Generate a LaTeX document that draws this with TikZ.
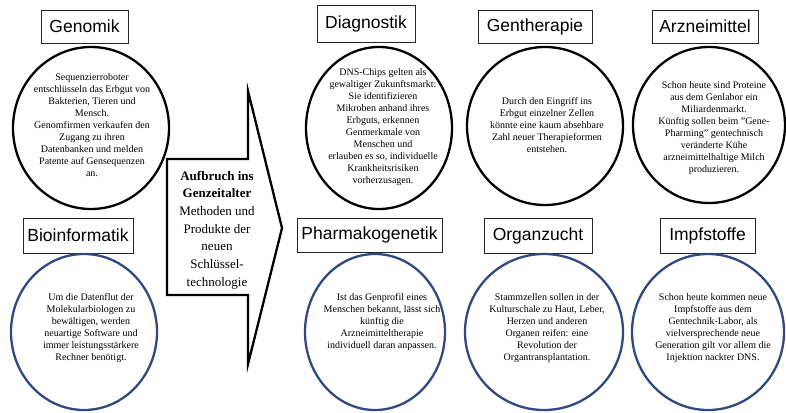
\documentclass[tikz,border=0pt]{standalone}
\usepackage{fontspec}
\setmainfont{Liberation Serif}
\newfontfamily\headfont{Liberation Sans}
\usetikzlibrary{shapes.geometric}
\definecolor{ringblue}{RGB}{50,72,128}
\begin{document}
\begin{tikzpicture}[x=1pt,y=-1pt,
  headbox/.style={draw=black!85, line width=0.8pt, inner sep=0pt,
    font=\headfont\fontsize{17.5}{20}\selectfont},
  ringtop/.style={ellipse, draw=black, line width=2.3pt, inner sep=0pt},
  ringlow/.style={ellipse, draw=ringblue, line width=2.3pt, inner sep=0pt},
  body/.style={align=center, inner sep=0pt, font=\fontsize{10}{12}\selectfont},
  banner/.style={draw=black, line width=2.3pt, line join=miter}]
\useasboundingbox (0,0) rectangle (786,412);

% upper row: titles
\node[headbox, minimum width=87pt, minimum height=33pt] (hGen) at (84.5,26.5) {Genomik};
\node[headbox, minimum width=98pt, minimum height=37pt] (hDia) at (366,23.5) {Diagnostik};
\node[headbox, minimum width=114pt, minimum height=33pt] (hGth) at (535,26.5) {Gentherapie};
\node[headbox, minimum width=106pt, minimum height=33pt] (hArz) at (705,26.5) {Arzneimittel};

% lower row: titles
\node[headbox, minimum width=110pt, minimum height=35pt] (hBio) at (78,235.5) {Bioinformatik};
\node[headbox, minimum width=145pt, minimum height=34pt] (hPha) at (369.5,235) {Pharmakogenetik};
\node[headbox, minimum width=108pt, minimum height=35pt] (hOrg) at (538,235.5) {Organzucht};
\node[headbox, minimum width=95pt, minimum height=35pt] (hImp) at (707.5,235.5) {Impfstoffe};

% upper row: rings
\node[ringtop, minimum width=156pt, minimum height=162pt] (cGen) at (91,128) {};
\node[ringtop, minimum width=146pt, minimum height=162pt] (cDia) at (379,128) {};
\node[ringtop, minimum width=156pt, minimum height=158pt] (cGth) at (545,126) {};
\node[ringtop, minimum width=152pt, minimum height=156pt] (cArz) at (709,125) {};

% lower row: rings
\node[ringlow, minimum width=146pt, minimum height=156pt] (cBio) at (84,332) {};
\node[ringlow, minimum width=140pt, minimum height=156pt] (cPha) at (375,332) {};
\node[ringlow, minimum width=158pt, minimum height=156pt] (cOrg) at (544,332) {};
\node[ringlow, minimum width=152pt, minimum height=156pt] (cImp) at (708,332) {};

% ring texts
\node[body] (tGen) at (92,125) {Sequenzierroboter\\entschlüsseln das Erbgut von\\Bakterien, Tieren und\\Mensch.\\Genomfirmen verkaufen den\\Zugang zu ihren\\Datenbanken und melden\\Patente auf Gensequenzen\\an.};
\node[body] (tDia) at (383,127) {DNS-Chips gelten als\\gewaltiger Zukunftsmarkt:\\Sie identifizieren\\Mikroben anhand ihres\\Erbguts, erkennen\\Genmerkmale von\\Menschen und\\erlauben es so, individuelle\\Krankheitsrisiken\\vorherzusagen.};
\node[body] (tGth) at (547,125) {Durch den Eingriff ins\\Erbgut einzelner Zellen\\könnte eine kaum absehbare\\Zahl neuer Therapieformen\\entstehen.};
\node[body] (tArz) at (714,128) {Schon heute sind Proteine\\aus dem Genlabor ein\\Miliardenmarkt.\\Künftig sollen beim "Gene-\\Pharming" gentechnisch\\veränderte Kühe\\arzneimittelhaltige Milch\\produzieren.};
\node[body] (tBio) at (91,328) {Um die Datenflut der\\Molekularbiologen zu\\bewältigen, werden\\neuartige Software und\\immer leistungsstärkere\\Rechner benötigt.};
\node[body] (tPha) at (382,322) {Ist das Genprofil eines\\Menschen bekannt, lässt sich\\künftig die\\Arzneimitteltherapie\\individuell daran anpassen.};
\node[body] (tOrg) at (547,328) {Stammzellen sollen in der\\Kulturschale zu Haut, Leber,\\Herzen und anderen\\Organen reifen: eine\\Revolution der\\Organtransplantation.};
\node[body] (tImp) at (713,328) {Schon heute kommen neue\\Impfstoffe aus dem\\Gentechnik-Labor, als\\vielversprechende neue\\Generation gilt vor allem die\\Injektion nackter DNS.};

% central arrow banner
\draw[banner] (248,91) -- (248,159) -- (167,159) -- (167,295) -- (248,295)
  -- (248,364) -- (282,228) -- cycle;
\node[align=center, inner sep=0pt, font=\fontsize{13}{17.7}\selectfont] (tArrow) at (217,230)
  {\textbf{Aufbruch ins}\\\textbf{Genzeitalter}\\Methoden und\\Produkte der\\neuen\\Schlüssel-\\technologie};
\end{tikzpicture}
\end{document}
